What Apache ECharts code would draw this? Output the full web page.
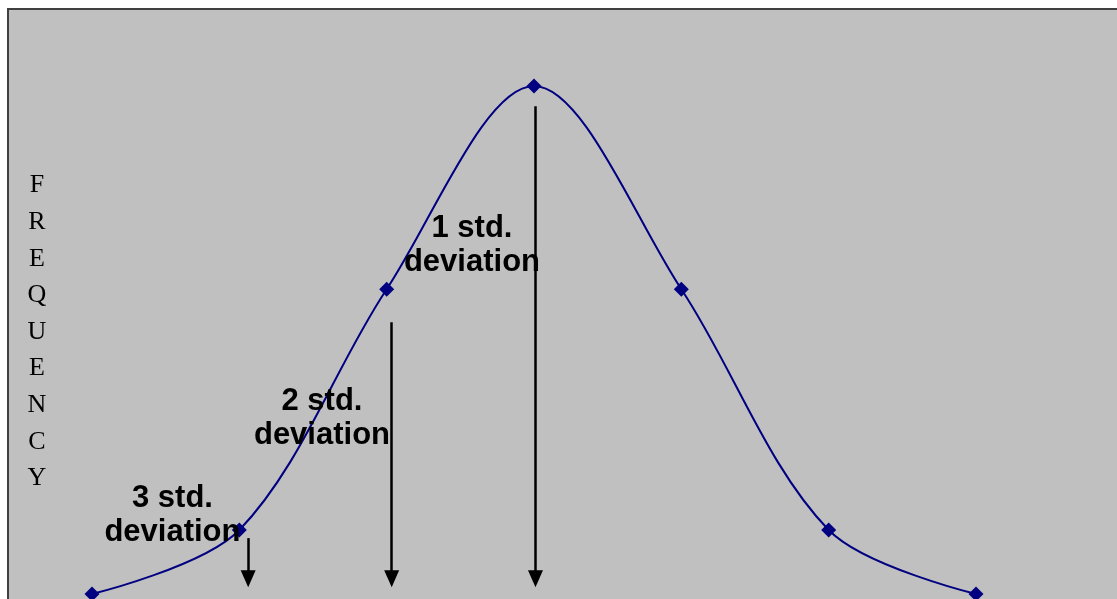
<!DOCTYPE html>
<html>
<head>
<meta charset="utf-8">
<script src="https://cdn.jsdelivr.net/npm/echarts@6/dist/echarts.min.js"></script>
<style>
  html, body { margin: 0; padding: 0; background: #fff; }
  #chart { width: 1117px; height: 599px; }
</style>
</head>
<body>
<div id="chart"></div>
<script>
// bell curve points, x in std. deviations from the mean
var sigmaX = [-3, -2, -1, 0, 1, 2, 3];
var frequency = [0, 12.6, 60, 100, 60, 12.6, 0];

// arrows pointing down to the axis
var arrowX = [-1.94, -0.966, 0.01];
var arrowTop = [11.0, 53.5, 96.0];
var arrowBottom = [3.0, 3.0, 3.0];

// text next to the arrows
var stdLabels = ['3 std.\ndeviation', '2 std.\ndeviation', '1 std.\ndeviation'];
var labelX = [-2.454, -1.439, -0.421];
var labelY = [15.4, 34.6, 68.7];

var yTitle = 'FREQUENCY';

var chart = echarts.init(document.getElementById('chart'));

var curveData = sigmaX.map(function (x, i) { return [x, frequency[i]]; });

var arrowLines = arrowX.map(function (x, i) {
  return [{ coord: [x, arrowTop[i]] }, { coord: [x, arrowBottom[i]] }];
});

var labelPoints = stdLabels.map(function (t, i) {
  return { coord: [labelX[i], labelY[i]], value: t };
});

var option = {
  animation: false,
  backgroundColor: '#ffffff',
  graphic: [{
    type: 'rect',
    z: -10,
    shape: { x: 8, y: 9, width: 1300, height: 800 },
    style: { fill: '#c0c0c0', stroke: '#404040', lineWidth: 2 }
  }, {
    // vertical axis title, one letter per line
    type: 'text',
    x: 37,
    y: 332,
    style: {
      text: yTitle.split('').join('\n'),
      fontFamily: 'Liberation Serif',
      fontSize: 26,
      lineHeight: 36.6,
      fill: '#000',
      align: 'center',
      verticalAlign: 'middle'
    }
  }],
  grid: { left: 92, right: 141, top: 86, bottom: 5 },
  xAxis: {
    type: 'value',
    min: -3,
    max: 3,
    axisLine: { show: false },
    axisTick: { show: false },
    axisLabel: { show: false },
    splitLine: { show: false }
  },
  yAxis: {
    type: 'value',
    min: 0,
    max: 100,
    axisLine: { show: false },
    axisTick: { show: false },
    axisLabel: { show: false },
    splitLine: { show: false }
  },
  series: [{
    type: 'line',
    data: curveData,
    smooth: 0.33,
    clip: false,
    symbol: 'diamond',
    symbolSize: 15,
    lineStyle: { color: '#000080', width: 2 },
    itemStyle: { color: '#000080' },
    markLine: {
      silent: true,
      symbol: ['none', 'triangle'],
      symbolSize: [15, 17],
      label: { show: false },
      lineStyle: { color: '#000', width: 2.5, type: 'solid' },
      itemStyle: { color: '#000' },
      data: arrowLines
    },
    markPoint: {
      silent: true,
      symbol: 'circle',
      symbolSize: 0,
      label: {
        show: true,
        position: 'inside',
        formatter: function (p) { return p.value; },
        fontFamily: 'Liberation Sans',
        fontWeight: 'bold',
        fontSize: 31,
        lineHeight: 34,
        color: '#000',
        align: 'center'
      },
      data: labelPoints
    }
  }]
};

chart.setOption(option);
</script>
</body>
</html>
